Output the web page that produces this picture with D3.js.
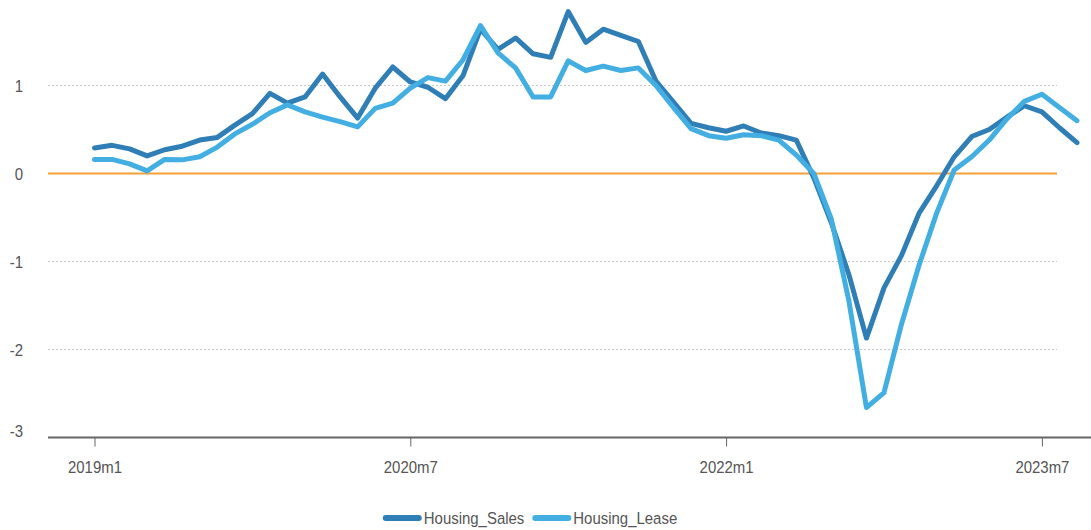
<!DOCTYPE html>
<html><head><meta charset="utf-8">
<script src="https://cdn.jsdelivr.net/npm/d3@7"></script>
<style>
body{margin:0;background:#fff}
text{font-family:"Liberation Sans",Arial,sans-serif;fill:#555}
</style>
</head><body>
<svg id="c" width="1091" height="530"></svg>
<script>
const months = ["2019m1","2019m2","2019m3","2019m4","2019m5","2019m6","2019m7","2019m8","2019m9","2019m10","2019m11","2019m12",
"2020m1","2020m2","2020m3","2020m4","2020m5","2020m6","2020m7","2020m8","2020m9","2020m10","2020m11","2020m12",
"2021m1","2021m2","2021m3","2021m4","2021m5","2021m6","2021m7","2021m8","2021m9","2021m10","2021m11","2021m12",
"2022m1","2022m2","2022m3","2022m4","2022m5","2022m6","2022m7","2022m8","2022m9","2022m10","2022m11","2022m12",
"2023m1","2023m2","2023m3","2023m4","2023m5","2023m6","2023m7","2023m8","2023m9"];

const housingSales = [0.29,0.32,0.28,0.20,0.27,0.31,0.38,0.41,0.55,0.68,
 0.91,0.80,0.87,1.13,0.87,0.63,0.97,1.21,1.04,0.98,
 0.85,1.11,1.64,1.41,1.54,1.36,1.32,1.84,1.49,1.64,
 1.57,1.50,1.05,0.81,0.57,0.52,0.48,0.54,0.46,0.43,
 0.38,-0.05,-0.56,-1.15,-1.87,-1.30,-0.93,-0.45,-0.14,0.19,
 0.42,0.50,0.64,0.77,0.70,0.52,0.35];

const housingLease = [0.16,0.16,0.11,0.03,0.16,0.155,0.19,0.30,0.45,0.56,
 0.69,0.78,0.70,0.64,0.59,0.53,0.74,0.80,0.97,1.09,
 1.05,1.29,1.68,1.37,1.20,0.87,0.87,1.28,1.17,1.22,
 1.17,1.20,1.00,0.75,0.51,0.43,0.40,0.44,0.43,0.38,
 0.21,0.00,-0.52,-1.45,-2.66,-2.49,-1.71,-1.04,-0.45,0.04,
 0.19,0.38,0.62,0.82,0.90,0.75,0.60];

const xTickLabels = ["2019m1","2020m7","2022m1","2023m7"];
const yTickValues = [-3,-2,-1,0,1];
const seriesNames = ["Housing_Sales","Housing_Lease"];
const seriesColors = ["#2f7fb6","#42aee2"];

const narrow = 0.88;
const svg = d3.select("#c");
const x = d3.scalePoint().domain(months).range([94.5, 1077]);
const y = d3.scaleLinear().domain([-3, 2]).range([437.5, -2.5]);
const gridLeft = 48, gridRight = 1057;

// gridlines
svg.append("g").selectAll("line")
  .data(yTickValues.filter(v => v !== 0 && v !== -3))
  .join("line")
  .attr("x1", gridLeft).attr("x2", gridRight)
  .attr("y1", d => y(d)).attr("y2", d => y(d))
  .attr("stroke", "#c8c8c8").attr("stroke-width", 1.2)
  .attr("stroke-dasharray", "2,2");

// zero line
svg.append("line")
  .attr("x1", gridLeft).attr("x2", gridRight)
  .attr("y1", y(0)).attr("y2", y(0))
  .attr("stroke", "#f5a035").attr("stroke-width", 2);

// y labels
const yAxis = svg.append("g").attr("transform", "translate(23,0)")
  .call(d3.axisLeft(y).tickValues(yTickValues).tickSize(0).tickPadding(0).tickFormat(d => String(d)));
yAxis.select(".domain").remove();
yAxis.selectAll("text").style("font-size", "17px").attr("fill", "#555")
  .attr("x", 0)
  .attr("dy", d => d === -3 ? "-0.05em" : "0.36em")
  .attr("transform", `scale(${narrow},1)`);

// x axis
const xAxis = svg.append("g").attr("transform", `translate(0,${y(-3)})`)
  .call(d3.axisBottom(x).tickValues(xTickLabels).tickSize(9).tickPadding(14));
xAxis.select(".domain").remove();
xAxis.selectAll(".tick line").attr("stroke", "#666").attr("stroke-width", 1);
xAxis.selectAll("text").style("font-size", "17px").attr("fill", "#555")
  .attr("transform", `scale(${narrow},1)`);
svg.append("line")
  .attr("x1", gridLeft).attr("x2", 1091)
  .attr("y1", y(-3)).attr("y2", y(-3))
  .attr("stroke", "#666").attr("stroke-width", 2);

// lines
const line = d3.line().x((d, i) => x(months[i])).y(d => y(d));
[housingSales, housingLease].forEach((s, k) => {
  svg.append("path").datum(s)
    .attr("d", line)
    .attr("fill", "none")
    .attr("stroke", seriesColors[k])
    .attr("stroke-width", 5)
    .attr("stroke-linejoin", "round")
    .attr("stroke-linecap", "round");
});

// legend
const lg = svg.append("g");
let cx = 0;
seriesNames.forEach((n, k) => {
  lg.append("line").attr("x1", cx + 3).attr("x2", cx + 36).attr("y1", 0).attr("y2", 0)
    .attr("stroke", seriesColors[k]).attr("stroke-width", 6).attr("stroke-linecap", "round");
  const tg = lg.append("g").attr("transform", `translate(${cx + 41},0) scale(${narrow},1)`);
  const t = tg.append("text").attr("x", 0).attr("y", 0).attr("dy", "0.35em")
    .style("font-size", "17px").attr("fill", "#444").text(n);
  cx += 41 + t.node().getComputedTextLength() * narrow + 8;
});
const lw = cx - 8;
lg.attr("transform", `translate(${530 - lw / 2},518)`);
</script>
</body></html>
